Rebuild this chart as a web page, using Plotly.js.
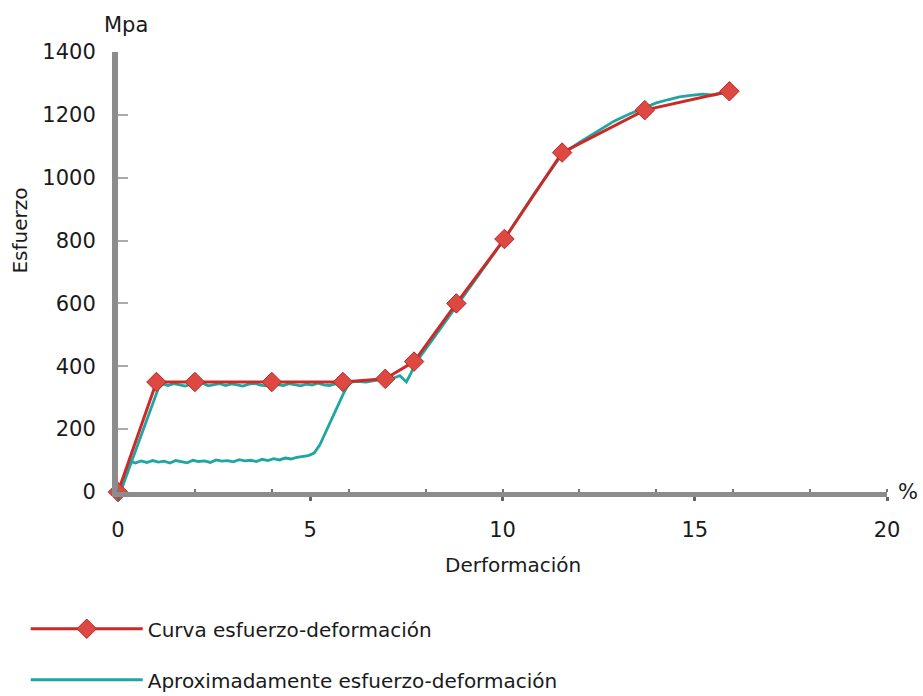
<!DOCTYPE html>
<html><head><meta charset="utf-8">
<script src="https://cdn.plot.ly/plotly-3.0.1.min.js"></script>
<style>html,body{margin:0;padding:0;background:#fff;}#chart{width:923px;height:696px;}</style>
</head><body><div id="chart"></div>
<script>
// Curva esfuerzo-deformación (red, diamonds)
const curveX = [0, 1, 2, 4, 5.85, 6.95, 7.7, 8.8, 10.05, 11.55, 13.7, 15.9];
const curveY = [0, 350, 350, 350, 350, 360, 415, 600, 805, 1080, 1215, 1275];

// Aproximadamente esfuerzo-deformación (teal) — lower loading branch
const lowX = [0.10, 0.18, 0.26, 0.34, 0.45, 0.6, 0.75, 0.9, 1.05, 1.2, 1.35, 1.5, 1.65, 1.8, 1.95, 2.1, 2.25, 2.4, 2.55, 2.7, 2.85, 3.0, 3.15, 3.3, 3.45, 3.6, 3.75, 3.9, 4.05, 4.2, 4.35, 4.5, 4.65, 4.8, 4.95, 5.1, 5.25, 5.4, 5.55, 5.7, 5.85, 5.95, 6.05];
const lowY = [10, 48, 84, 97, 92, 99, 94, 100, 95, 98, 92, 100, 96, 93, 101, 97, 99, 94, 102, 98, 100, 96, 103, 99, 101, 97, 104, 100, 106, 102, 108, 105, 110, 112, 116, 124, 150, 190, 232, 272, 310, 333, 348];

// teal — upper branch and hardening part
const upX = [0.10, 0.35, 0.6, 0.85, 1.05, 1.15, 1.3, 1.45, 1.6, 1.75, 1.9, 2.05, 2.2, 2.35, 2.5, 2.65, 2.8, 2.95, 3.1, 3.25, 3.4, 3.55, 3.7, 3.85, 4.0, 4.15, 4.3, 4.45, 4.6, 4.75, 4.9, 5.05, 5.2, 5.35, 5.5, 5.65, 5.8, 5.95, 6.2, 6.45, 6.7, 6.95, 7.15, 7.33, 7.5, 7.62, 7.75, 8.3, 8.85, 9.45, 10.05, 10.8, 11.55, 12.0, 12.5, 12.9, 13.3, 13.7, 14.0, 14.3, 14.6, 14.9, 15.2, 15.5, 15.75, 15.95];
const upY = [12, 95, 178, 262, 330, 344, 339, 345, 341, 337, 343, 340, 346, 338, 342, 345, 339, 344, 341, 337, 343, 346, 340, 338, 344, 341, 339, 345, 342, 338, 343, 340, 346, 341, 339, 344, 342, 347, 352, 350, 355, 358, 362, 370, 350, 378, 412, 505, 598, 700, 805, 945, 1075, 1112, 1150, 1180, 1203, 1222, 1238, 1248, 1257, 1262, 1266, 1263, 1270, 1276];

const xTicks = [0, 5, 10, 15, 20];
const xTickText = ['0', '5', '10', '15', '20'];
const yTicks = [0, 200, 400, 600, 800, 1000, 1200, 1400];
const yTickText = ['0', '200', '400', '600', '800', '1000', '1200', '1400'];

const nameCurve = 'Curva esfuerzo-deformación';
const nameApprox = 'Aproximadamente esfuerzo-deformación';

const approxX = lowX.concat([null], upX);
const approxY = lowY.concat([null], upY);

const traces = [
  {
    x: approxX, y: approxY, type: 'scatter', mode: 'lines', name: nameApprox,
    legendgroup: 'b', legendrank: 2, connectgaps: false, cliponaxis: false,
    line: {color: '#1fa6a3', width: 2.8}
  },
  {
    x: curveX, y: curveY, type: 'scatter', mode: 'lines+markers', name: nameCurve,
    legendgroup: 'a', legendrank: 1, cliponaxis: false,
    line: {color: '#cc2a26', width: 3},
    marker: {symbol: 'diamond', size: 15, color: '#dd4842', line: {color: '#b42a24', width: 1}}
  }
];

const layout = {
  width: 923, height: 696,
  margin: {l: 118, r: 36, t: 52, b: 204, autoexpand: false},
  paper_bgcolor: '#ffffff', plot_bgcolor: '#ffffff',
  font: {family: 'DejaVu Sans, Verdana, sans-serif', size: 21, color: '#1a1a1a'},
  showlegend: true,
  xaxis: {
    range: [0, 20], showgrid: false, zeroline: false,
    showline: true, linecolor: '#8c8c8c', linewidth: 5,
    tickmode: 'array', tickvals: xTicks, ticktext: xTickText,
    ticks: 'outside', ticklen: 4, tickwidth: 3, tickcolor: '#666',
    ticklabelstandoff: 11,
    minor: {dtick: 2, tick0: 0, ticks: 'inside', ticklen: 3, tickwidth: 2, tickcolor: '#777', showgrid: false}
  },
  yaxis: {
    range: [0, 1400], showgrid: false, zeroline: false,
    showline: true, linecolor: '#8c8c8c', linewidth: 6,
    tickmode: 'array', tickvals: yTicks, ticktext: yTickText,
    ticks: 'inside', ticklen: 10, tickwidth: 1.5, tickcolor: '#aaaaaa',
    ticklabelstandoff: 12
  },
  legend: {
    x: -0.12, xanchor: 'left', y: -0.2665, yanchor: 'top',
    traceorder: 'grouped', tracegroupgap: 22, itemwidth: 112,
    font: {size: 20, color: '#1a1a1a'}, bgcolor: 'rgba(0,0,0,0)'
  },
  annotations: [
    {text: 'Mpa', xref: 'paper', yref: 'paper', x: 0.0104, y: 1.061, xanchor: 'center', yanchor: 'middle', showarrow: false, font: {size: 21}},
    {text: '%', xref: 'paper', yref: 'paper', x: 1.027, y: 0.0, xanchor: 'center', yanchor: 'middle', showarrow: false, font: {size: 21}},
    {text: 'Esfuerzo', xref: 'paper', yref: 'paper', x: -0.127, y: 0.595, xanchor: 'center', yanchor: 'middle', textangle: -90, showarrow: false, font: {size: 20}},
    {text: 'Derformación', xref: 'paper', yref: 'paper', x: 0.514, y: -0.166, xanchor: 'center', yanchor: 'middle', showarrow: false, font: {size: 20}}
  ]
};

Plotly.newPlot('chart', traces, layout, {displayModeBar: false, responsive: false});
</script>
</body></html>
